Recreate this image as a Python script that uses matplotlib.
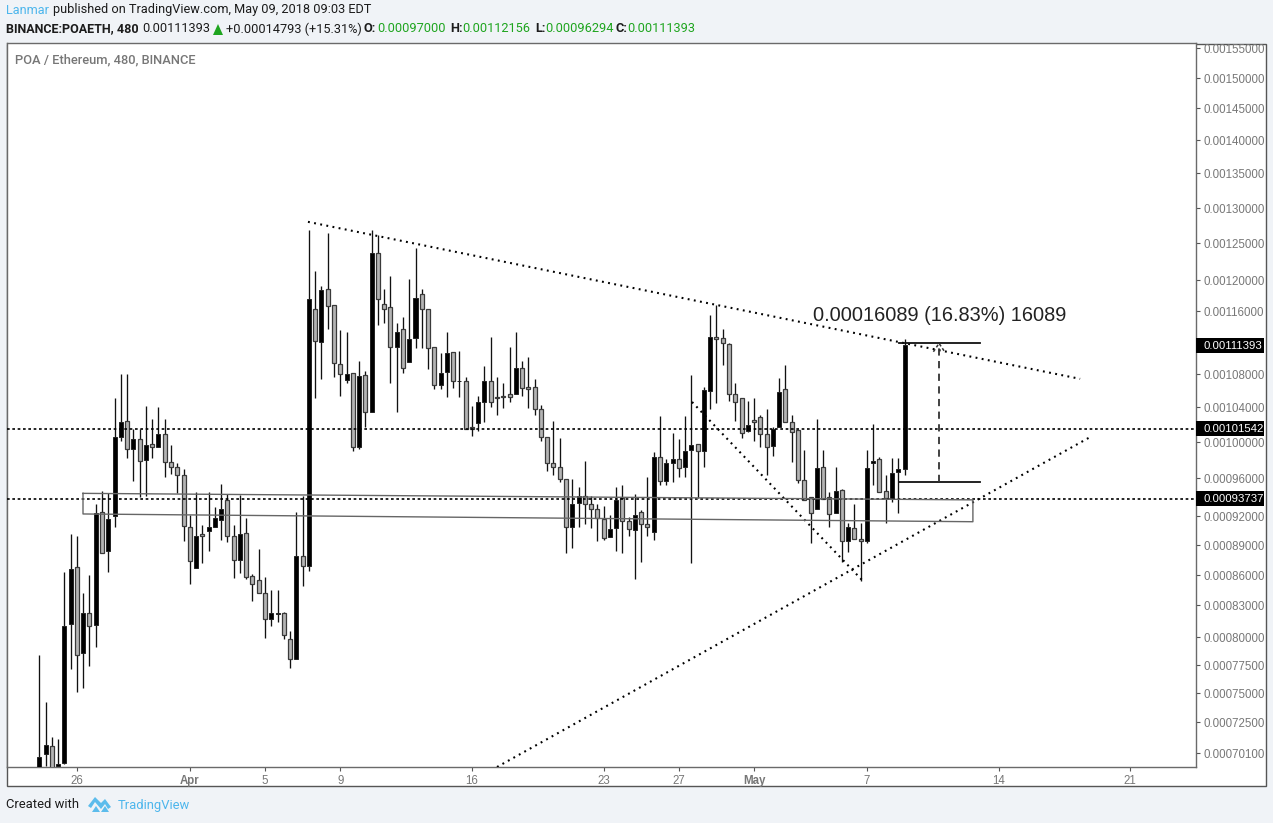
#!/usr/bin/env python3
import numpy as np
import matplotlib
matplotlib.use("Agg")
import matplotlib.pyplot as plt
from matplotlib.patches import Polygon, Rectangle
from matplotlib.transforms import IdentityTransform, Affine2D

W, H = 1273, 823

# 8h candles, prices in 1e-6 ETH
opens = [685, 700, 706, 691, 693, 812, 868, 786, 822, 811,
         924, 884, 920, 1006, 1024, 992, 1003, 980, 998, 994,
         1009, 978, 972, 963, 908, 867, 901, 904, 909, 916,
         936, 899, 875, 902, 859, 855, 842, 817, 821, 822,
         798, 780, 879, 869, 1163, 1118, 1188, 1168, 1092, 1073,
         1081, 994, 1079, 1034, 1236, 1169, 1165, 1112, 1135, 1094,
         1123, 1182, 1163, 1112, 1066, 1082, 1106, 1071, 1071, 1017,
         1022, 1046, 1072, 1052, 1053, 1055, 1055, 1087, 1064, 1064,
         1038, 1006, 977, 972, 959, 908, 933, 940, 932, 927,
         917, 898, 907, 938, 915, 905, 924, 912, 903, 983,
         957, 977, 981, 972, 991, 998, 990, 1059, 1124, 1123,
         1115, 1056, 1051, 1013, 1025, 1029, 1009, 996, 1017, 1062,
         1023, 1014, 958, 939, 927, 972, 939, 923, 947, 894,
         907, 896, 894, 977, 981, 946, 938, 967, 970]
closes = [698, 707, 685, 692, 810, 866, 784, 822, 810, 923,
          882, 917, 1006, 1023, 992, 1003, 979, 997, 994, 1009,
          978, 972, 963, 910, 874, 899, 899, 908, 918, 927,
          899, 875, 901, 858, 851, 842, 817, 822, 822, 802,
          780, 879, 869, 1175, 1119, 1187, 1166, 1093, 1080, 1080,
          994, 1078, 1034, 1236, 1175, 1163, 1112, 1131, 1087, 1121,
          1177, 1163, 1110, 1066, 1081, 1104, 1072, 1072, 1015, 1015,
          1046, 1071, 1046, 1051, 1052, 1052, 1087, 1063, 1062, 1038,
          1006, 977, 972, 959, 908, 932, 940, 932, 927, 918,
          897, 906, 936, 915, 906, 921, 912, 908, 983, 957,
          976, 981, 971, 990, 997, 990, 1061, 1124, 1121, 1116,
          1056, 1046, 1010, 1019, 1023, 1009, 994, 1015, 1058, 1023,
          1011, 958, 936, 923, 971, 937, 922, 946, 894, 908,
          896, 894, 971, 979, 944, 938, 966, 970, 1113.93]
highs = [784, 742, 713, 712, 863, 901, 899, 842, 860, 932,
         946, 943, 1051, 1080, 1080, 1015, 1015, 1041, 1026, 1040,
         1026, 997, 977, 970, 921, 944, 911, 945, 929, 953,
         942, 911, 941, 918, 861, 886, 858, 845, 845, 823,
         806, 924, 940, 1269, 1212, 1192, 1264, 1168, 1134, 1131,
         1081, 1095, 1084, 1269, 1261, 1188, 1205, 1143, 1152, 1201,
         1243, 1188, 1163, 1112, 1104, 1131, 1106, 1107, 1076, 1041,
         1053, 1089, 1124, 1076, 1069, 1112, 1131, 1095, 1100, 1074,
         1042, 1006, 1024, 1005, 959, 959, 950, 979, 940, 932,
         930, 921, 950, 952, 919, 942, 926, 961, 989, 1030,
         981, 1010, 1003, 1030, 1079, 998, 1064, 1154, 1168, 1135,
         1116, 1069, 1051, 1047, 1051, 1031, 1038, 1017, 1075, 1091,
         1031, 1014, 991, 939, 1026, 991, 944, 972, 948, 913,
         932, 913, 991, 1021, 983, 963, 982, 982, 1121.56]
lows = [685, 691, 685, 688, 692, 771, 751, 754, 774, 791,
        882, 863, 908, 1001, 982, 957, 939, 940, 982, 994,
        961, 964, 943, 894, 851, 867, 872, 884, 909, 895,
        893, 857, 862, 856, 834, 842, 799, 810, 814, 798,
        772, 780, 849, 864, 1051, 1074, 1135, 1076, 1053, 1069,
        990, 992, 1017, 1034, 1141, 1143, 1069, 1034, 1081, 1094,
        1110, 1111, 1086, 1062, 1062, 1052, 1063, 1052, 1015, 1007,
        1012, 1023, 1040, 1031, 1039, 1046, 1055, 1053, 1039, 1031,
        1001, 968, 963, 955, 882, 887, 908, 912, 907, 894,
        895, 898, 884, 882, 899, 856, 873, 899, 895, 952,
        952, 956, 961, 961, 872, 938, 972, 1038, 1045, 1091,
        1047, 1024, 1005, 1011, 1001, 994, 963, 984, 1017, 1023,
        978, 954, 936, 892, 927, 937, 909, 923, 873, 883,
        896, 854, 892, 952, 944, 913, 934, 923, 962.94]

price_ticks = [1550, 1500, 1450, 1400, 1350, 1300, 1250, 1200, 1160, 1120, 1080, 1040,
               1000, 960, 920, 890, 860, 830, 800, 775, 750, 725, 701]
hidden_ticks = [1120]  # sits under the last price tag
time_ticks = [6, 24, 36, 48, 69, 90, 102, 114, 132, 153, 174]
time_labels = ["26", "Apr", "5", "9", "16", "23", "27", "May", "7", "14", "21"]
bold_labels = ["Apr", "May"]

level_upper = 1015.42
level_lower = 937.37
last_price = 1113.93

# drawings as (candle index, price)
resistance = ([42.85, 166.0], [1280, 1074])
support = ([73.0, 167.7], [690, 1006])
wedge = ([104.1, 131.2], [1046, 855])
box_x = [6.97, 148.9, 148.9, 6.97, 6.97]
box_y = [943, 936, 914, 922, 943]
measure_x = [137.1, 150.0]
measure_low, measure_high = 956, 1116
measure_mid = 143.5

# the price axis is close to log but not exact, so it goes through its own ticks
axis_prices = np.array([600, 690, 701, 725, 750, 775, 800, 830, 860, 890, 920, 937.37, 960, 1000,
                        1015.42, 1040, 1080, 1120, 1160, 1200, 1250, 1300, 1350, 1400, 1450, 1500, 1550, 1559, 2000])
axis_rows = np.array([884, 767, 753, 722, 693, 665, 637, 605, 575, 545, 516, 498.5, 478, 442,
                      428.5, 407, 374, 340, 311, 280, 243, 208, 173, 140, 108, 78, 48, 43, -150])


def forward(p):
    return np.interp(np.log(p), np.log(axis_prices), -axis_rows)


def inverse(v):
    return np.exp(np.interp(v, -axis_rows, np.log(axis_prices)))


GRAY = "#777777"
BG = "#f0f3f7"
BLUE = "#4db6ec"
GREEN = "#1fa51f"
DARK = "#1c1c1c"

plt.rcParams["font.family"] = ["Liberation Sans", "DejaVu Sans"]
fig = plt.figure(figsize=(W / 100, H / 100), dpi=100, facecolor=BG)
px = Affine2D().scale(1, -1).translate(0, H)  # reference pixels to display

fig.add_artist(Rectangle((6.5, 43.5), 1259, 742.5, transform=px, facecolor="white", edgecolor="#555555", lw=1.0, zorder=-5))

ax = fig.add_axes([6.5 / W, 1 - 767 / H, (1196 - 6.5) / W, (767 - 43) / H], facecolor="white")
ax.set_yscale("function", functions=(forward, inverse))
ax.set_ylim(690, 1559)
ax.set_xlim((6.5 - 39.3) / 6.27, (1196 - 39.3) / 6.27)

xs = np.arange(len(opens))
o, c, h, l = map(np.array, (opens, closes, highs, lows))
up = c >= o

ax.vlines(xs, l, h, color="#111111", lw=0.95, zorder=2)
ax.bar(xs[up], (c - o)[up], bottom=o[up], width=0.64, color="black", edgecolor="#222222", lw=0.7, zorder=3)
ax.bar(xs[~up], (o - c)[~up], bottom=c[~up], width=0.64, color="#b4b4b4", edgecolor="#3a3a3a", lw=0.9, zorder=3)

# levels and drawings
ax.axhline(level_upper, color="black", lw=1.2, dashes=(1.6, 1.6), zorder=4)
ax.axhline(level_lower, color="black", lw=1.2, dashes=(1.6, 1.6), zorder=4)
for line in (resistance, support, wedge):
    ax.plot(line[0], line[1], color="black", lw=1.5, dashes=(0.9, 2.1), zorder=4)
ax.plot(box_x, box_y, color="#666666", lw=1.0, zorder=4)
ax.plot(measure_x, [measure_high, measure_high], color="#111111", lw=1.3, zorder=4)
ax.plot(measure_x, [measure_low, measure_low], color="#111111", lw=1.3, zorder=4)
ax.plot([measure_mid, measure_mid], [measure_low, measure_high], color="#333333", lw=1.3, dashes=(4, 3), zorder=4)
ax.plot([measure_mid - 0.9, measure_mid, measure_mid + 0.9], [measure_high - 10, measure_high, measure_high - 10],
        color="#333333", lw=1.1, dashes=(2, 1.5), zorder=4)
ax.text(123.4, 1154, "0.00016089 (16.83%) 16089", fontsize=14.4, color="#222222", va="center", ha="left", zorder=5)

# axes
ax.yaxis.tick_right()
ax.set_yticks(price_ticks)
ax.set_yticklabels(["" if p in hidden_ticks else "%.8f" % (p * 1e-6) for p in price_ticks])
ax.minorticks_off()
ax.set_xticks(time_ticks)
ax.set_xticklabels(time_labels)
ax.tick_params(axis="y", length=3, width=0.8, color="#555555", labelcolor=GRAY, labelsize=8.3, pad=2.2)
ax.tick_params(axis="x", length=3, width=0.8, color="#555555", labelcolor=GRAY, labelsize=8.3, pad=2.5)
for lab in ax.get_xticklabels():
    if lab.get_text() in bold_labels:
        lab.set_fontweight("bold")
for s in ax.spines.values():
    s.set_color("#6a6a6a")
    s.set_linewidth(1.0)

# black price tags on the scale
fig.canvas.draw()
for p in (last_price, level_upper, level_lower):
    yd = ax.transData.transform((0, p))[1]
    fig.add_artist(Rectangle((1196, yd - 7.5), 68, 15, transform=IdentityTransform(), facecolor="black", edgecolor="none", zorder=6))
    fig.text(1203, yd - 0.5, "%.8f" % (p * 1e-6), transform=IdentityTransform(), color="white", fontsize=8.2,
             va="center", ha="left", zorder=7)


def label(x, y, s, **kw):
    kw.setdefault("family", ["Roboto", "DejaVu Sans"])
    kw.setdefault("fontsize", 9.2)
    kw.setdefault("color", DARK)
    fig.text(x, y, s, transform=px, va="center", ha="left", **kw)


# header
label(6, 10, "Lanmar", color=BLUE)
label(53, 10, "published on TradingView.com, May 09, 2018 09:03 EDT")
label(6, 29, "BINANCE:POAETH, 480", fontweight="bold", fontsize=9.0)
label(142, 29, "0.00111393")
fig.add_artist(Polygon([(213, 35), (218, 24), (223, 35)], closed=True, transform=px, facecolor=GREEN, edgecolor="none"))
label(226, 29, "+0.00014793 (+15.31%)")
for x_key, key, x_val, val in [(364, "O:", 377, "0.00097000"), (450, "H:", 462, "0.00112156"),
                               (535, "L:", 545, "0.00096294"), (616, "C:", 627, "0.00111393")]:
    label(x_key, 29, key, fontweight="bold")
    label(x_val, 29, val, color=GREEN)
label(15, 60, "POA / Ethereum, 480, BINANCE", color="#777777", fontweight="medium", fontsize=9.3)

# footer
label(6, 805, "Created with", fontsize=9.4)
label(118, 805, "TradingView", color=BLUE, fontsize=9.4)
fig.add_artist(Polygon([(88, 806), (95, 797), (101, 803), (105, 799), (111, 807), (108, 809), (105, 804), (101, 809),
                        (95, 802), (91, 808)], closed=True, transform=px, facecolor="#5cbcec", edgecolor="none"))
fig.add_artist(Polygon([(92, 812), (96, 806), (100, 812)], closed=True, transform=px, facecolor="#5cbcec", edgecolor="none"))
fig.add_artist(Polygon([(101, 812), (105, 806), (109, 812)], closed=True, transform=px, facecolor="#5cbcec", edgecolor="none"))

fig.savefig("out.png", dpi=100, facecolor=BG)
